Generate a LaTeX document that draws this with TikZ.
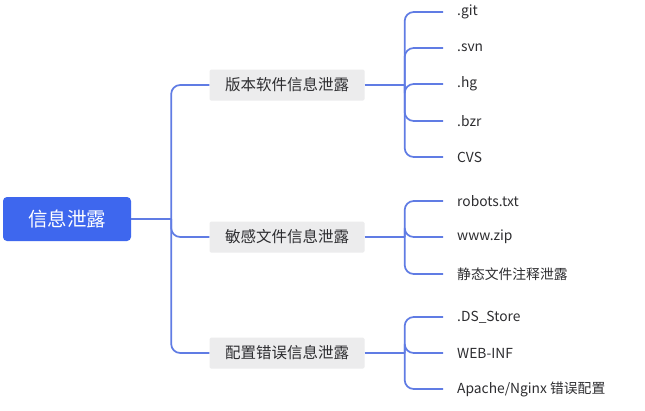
\documentclass[tikz,border=0pt]{standalone}
\usepackage{fontspec}
\setmainfont{Noto Sans CJK SC}
\usepackage{xcolor}
\usepackage{tikz}
\usetikzlibrary{positioning}

\definecolor{rootblue}{RGB}{62,103,238}
\definecolor{linkblue}{RGB}{96,124,228}
\definecolor{boxgray}{RGB}{236,236,237}
\definecolor{textgray}{RGB}{45,45,48}

\begin{document}
\begin{tikzpicture}[
	x=1pt, y=-1pt,
	rootbox/.style={draw=none, rectangle, rounded corners=4pt, minimum width=128pt, minimum height=44pt, align=center, fill=rootblue, text=white, font=\fontsize{19.5}{22}\selectfont},
	topicbox/.style={draw=none, rectangle, rounded corners=1.5pt, minimum width=155pt, minimum height=31pt, align=center, fill=boxgray, text=textgray, font=\fontsize{15.5}{18}\selectfont},
	leaf/.style={anchor=west, inner xsep=14pt, inner ysep=2pt, text=textgray, font=\fontsize{13.8}{16}\selectfont},
	link/.style={draw=linkblue, line width=1.7pt, rounded corners=9pt}
]
	\useasboundingbox[fill=white] (0,0) rectangle (645,410);

	\node (root) [rootbox] at (67,219) {信息泄露};

	\node (vcs) [topicbox] at (287,85) {版本软件信息泄露};
	\node (sens) [topicbox] at (287,237) {敏感文件信息泄露};
	\node (conf) [topicbox] at (287,353) {配置错误信息泄露};

	% leaves of the first topic
	\node (git) [leaf] at (443,12) {.git};
	\node (svn) [leaf] at (443,48) {.svn};
	\node (hg) [leaf] at (443,84) {.hg};
	\node (bzr) [leaf] at (443,121) {.bzr};
	\node (cvs) [leaf] at (443,157) {CVS};

	% leaves of the second topic
	\node (robots) [leaf] at (443,201) {robots.txt};
	\node (wwwzip) [leaf] at (443,237) {www.zip};
	\node (static) [leaf] at (443,274) {静态文件注释泄露};

	% leaves of the third topic
	\node (dsstore) [leaf] at (443,317) {.DS\_Store};
	\node (webinf) [leaf] at (443,353) {WEB-INF};
	\node (apache) [leaf] at (443,389) {Apache/Nginx 错误配置};

	\draw [link] (root.east) -- ++(40,0) coordinate (rootfork);
	\draw [link] (rootfork) |- (vcs.west);
	\draw [link] (rootfork) |- (sens.west);
	\draw [link] (rootfork) |- (conf.west);

	\draw [link] (vcs.east) -- ++(40,0) coordinate (vcsfork);
	\draw [link] (vcsfork) |- (git.west);
	\draw [link] (vcsfork) |- (svn.west);
	\draw [link] (vcsfork) |- (hg.west);
	\draw [link] (vcsfork) |- (bzr.west);
	\draw [link] (vcsfork) |- (cvs.west);

	\draw [link] (sens.east) -- ++(40,0) coordinate (sensfork);
	\draw [link] (sensfork) |- (robots.west);
	\draw [link] (sensfork) |- (wwwzip.west);
	\draw [link] (sensfork) |- (static.west);

	\draw [link] (conf.east) -- ++(40,0) coordinate (conffork);
	\draw [link] (conffork) |- (dsstore.west);
	\draw [link] (conffork) |- (webinf.west);
	\draw [link] (conffork) |- (apache.west);

\end{tikzpicture}
\end{document}
